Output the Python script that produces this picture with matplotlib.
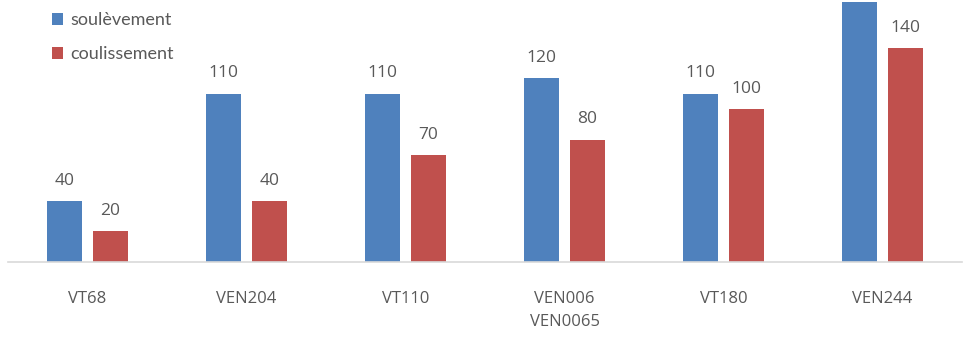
import numpy as np
import matplotlib.pyplot as plt

# Manoeuvring forces per window model
models = ["VT68", "VEN204", "VT110", "VEN006\nVEN0065", "VT180", "VEN244"]
soulevement = [40, 110, 110, 120, 110, 170]
coulissement = [20, 40, 70, 80, 100, 140]

blue = "#4F81BD"
red = "#C0504D"
grey = "#595959"

fig = plt.figure(figsize=(9.67, 3.38), dpi=100)
# the axes run above the top edge, so the tallest bar is cropped
ax = fig.add_axes([8 / 967, 1 - 262 / 338, 954 / 967, 306 / 338])

x = np.arange(len(models))
w = 0.222
off = 0.143
b1 = ax.bar(x - off, soulevement, w, color=blue, label="soulèvement")
b2 = ax.bar(x + off, coulissement, w, color=red, label="coulissement")

for bars, vals in ((b1, soulevement), (b2, coulissement)):
    for rect, v in zip(bars, vals):
        if v > 160:
            continue  # label would sit above the figure
        ax.text(rect.get_x() + rect.get_width() / 2, v + 8, str(v),
                ha="center", va="bottom", fontsize=12.5, color=grey,
                family="Open Sans")

ax.set_xlim(-0.5, len(models) - 0.5)
ax.set_ylim(0, 200)
ax.set_yticks([])
ax.set_xticks(x)
ax.set_xticklabels(models, fontsize=12, color=grey, family="Open Sans",
                   linespacing=1.6)
ax.tick_params(axis="x", length=0, pad=21)
for side in ("top", "left", "right"):
    ax.spines[side].set_visible(False)
ax.spines["bottom"].set_color("#D9D9D9")
ax.spines["bottom"].set_linewidth(1.2)

leg = fig.legend(handles=[b1, b2], loc="upper left",
                 bbox_to_anchor=(36 / 967, 1 + 4 / 338), frameon=False,
                 handlelength=0.6, handleheight=0.6, handletextpad=0.4,
                 labelspacing=1.0, prop={"family": "Lato", "size": 13})
for t in leg.get_texts():
    t.set_color(grey)

fig.savefig("out.png", dpi=100)
